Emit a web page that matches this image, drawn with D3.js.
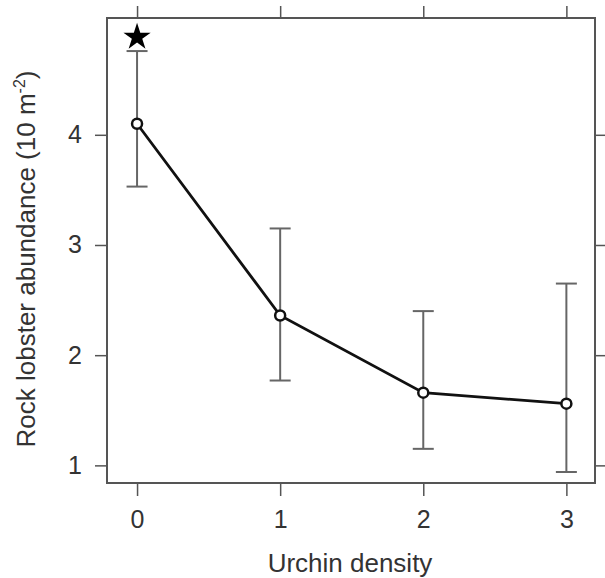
<!DOCTYPE html>
<html lang="en">
  <head>
    <meta charset="UTF-8" />
    <title>Rock lobster abundance vs urchin density</title>
    <script src="https://d3js.org/d3.v7.min.js"></script>
    <style>
      body { margin: 0; background: #fff; }
      text { font-family: "Liberation Sans", Arial, sans-serif; fill: #333; }
    </style>
  </head>
  <body>
    <div id="chart"></div>
    <script>
      // data
      const density = [0, 1, 2, 3];
      const meanAbund = [4.1, 2.36, 1.66, 1.56];
      const lowerCI = [3.53, 1.77, 1.15, 0.94];
      const upperCI = [4.76, 3.15, 2.4, 2.65];
      const xTicks = [0, 1, 2, 3];
      const yTicks = [1, 2, 3, 4];

      const width = 605, height = 578;
      const box = { left: 107, right: 595, top: 18, bottom: 483 };

      const x = d3.scaleLinear().domain([-0.21, 3.2]).range([box.left, box.right]);
      const y = d3.scaleLinear().domain([0.84, 5.06]).range([box.bottom, box.top]);

      const svg = d3.select("#chart").append("svg")
        .attr("width", width).attr("height", height);

      // axes on all four sides, ticks outward
      const axisStyle = g => {
        g.attr("font-size", 25).attr("font-family", "Liberation Sans, Arial, sans-serif");
        g.select(".domain").remove();
        g.selectAll("line").attr("stroke", "#555").attr("stroke-width", 1.5);
        g.selectAll("text").attr("fill", "#333");
      };

      svg.append("g").attr("transform", `translate(0,${box.bottom})`)
        .call(d3.axisBottom(x).tickValues(xTicks).tickSize(13).tickPadding(14).tickFormat(d3.format("d")))
        .call(axisStyle);
      svg.append("g").attr("transform", `translate(0,${box.top})`)
        .call(d3.axisTop(x).tickValues(xTicks).tickSize(12).tickFormat(""))
        .call(axisStyle);
      svg.append("g").attr("transform", `translate(${box.left},0)`)
        .call(d3.axisLeft(y).tickValues(yTicks).tickSize(12).tickPadding(13).tickFormat(d3.format("d")))
        .call(axisStyle);
      svg.append("g").attr("transform", `translate(${box.right},0)`)
        .call(d3.axisRight(y).tickValues(yTicks).tickSize(12).tickFormat(""))
        .call(axisStyle);

      svg.append("rect")
        .attr("x", box.left).attr("y", box.top)
        .attr("width", box.right - box.left).attr("height", box.bottom - box.top)
        .attr("fill", "none").attr("stroke", "#555").attr("stroke-width", 2);

      const pts = density.map((d, i) => ({ x: d, m: meanAbund[i], lo: lowerCI[i], hi: upperCI[i] }));

      // error bars
      const eb = svg.append("g").attr("stroke", "#666").attr("stroke-width", 2);
      pts.forEach(p => {
        eb.append("line").attr("x1", x(p.x)).attr("x2", x(p.x))
          .attr("y1", y(p.lo)).attr("y2", y(p.hi));
        [p.lo, p.hi].forEach(v => {
          eb.append("line").attr("x1", x(p.x) - 10.5).attr("x2", x(p.x) + 10.5)
            .attr("y1", y(v)).attr("y2", y(v));
        });
      });

      // mean line
      svg.append("path").datum(pts)
        .attr("d", d3.line().x(d => x(d.x)).y(d => y(d.m)))
        .attr("fill", "none").attr("stroke", "#111").attr("stroke-width", 2.8);

      svg.selectAll(".pt").data(pts).enter().append("circle")
        .attr("cx", d => x(d.x)).attr("cy", d => y(d.m)).attr("r", 5)
        .attr("fill", "#fff").attr("stroke", "#111").attr("stroke-width", 2.5);

      // significance star above the first point
      svg.append("path")
        .attr("d", d3.symbol().type(d3.symbolStar).size(230)())
        .attr("transform", `translate(${x(0)},${y(4.76) - 14})`)
        .attr("fill", "#000");

      // axis titles
      svg.append("text")
        .attr("x", 350).attr("y", 572)
        .attr("text-anchor", "middle").attr("font-size", 26)
        .text("Urchin density");

      const yt = svg.append("text")
        .attr("transform", "translate(35,259) rotate(-90)")
        .attr("text-anchor", "middle").attr("font-size", 26);
      yt.append("tspan").text("Rock lobster abundance (10 m");
      yt.append("tspan").attr("font-size", 16).attr("dy", -10).text("-2");
      yt.append("tspan").attr("dy", 10).text(")");
    </script>
  </body>
</html>
